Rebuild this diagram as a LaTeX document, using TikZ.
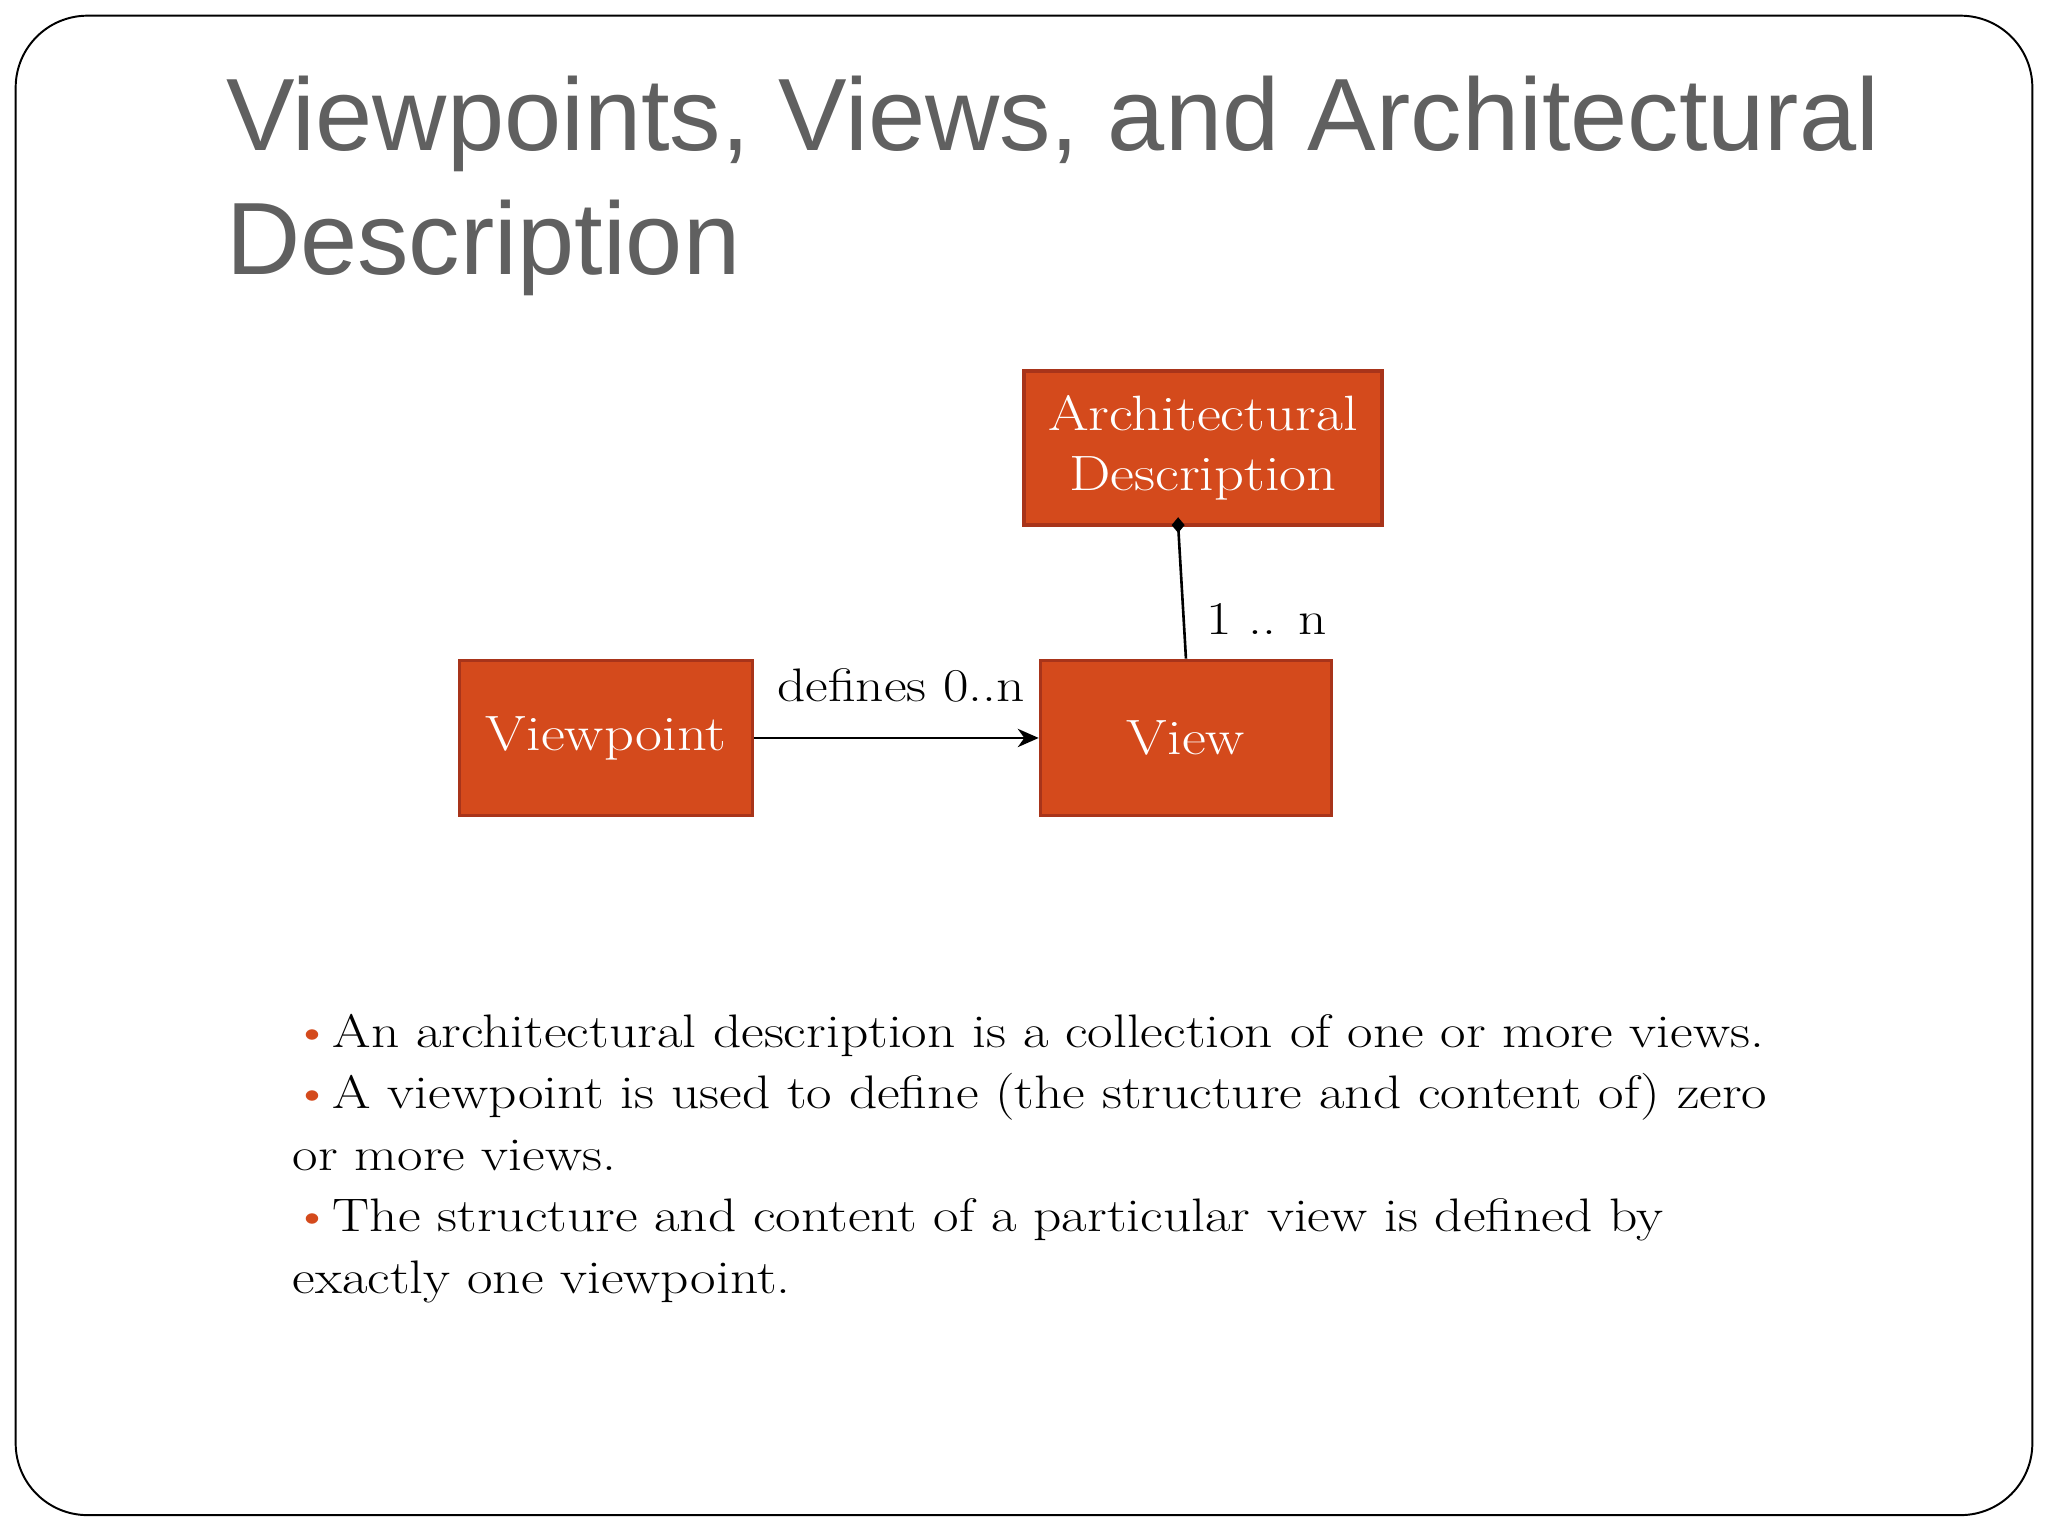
\documentclass[tikz,border=0pt]{standalone}
\usetikzlibrary{arrows.meta}
\usepackage{fontspec}
\newfontfamily\titlefont{Liberation Sans}
\newcommand{\sx}[1]{\scalebox{1.18}[1]{#1}}
\definecolor{boxor}{HTML}{D44A1C}
\definecolor{boxbd}{HTML}{A8341A}
\definecolor{titlegray}{HTML}{606060}
\begin{document}
\begin{tikzpicture}[x=1pt,y=-1pt,
  umlbox/.style={draw=boxbd,line width=2.5pt,fill=boxor,text=white,font=\fontsize{38}{46}\selectfont,align=center,inner sep=0pt},
  conn/.style={line width=2pt,black}]
\useasboundingbox (0,0) rectangle (1568,1176);
\draw[line width=1.5pt,rounded corners=55pt] (12,12) rectangle (1556,1160);
\node[anchor=base west,text=titlegray,font=\titlefont\fontsize{78.7}{96}\selectfont,inner sep=0pt] (t1) at (173,115) {Viewpoints, Views, and Architectural};
\node[anchor=base west,text=titlegray,font=\titlefont\fontsize{78.7}{96}\selectfont,inner sep=0pt] (t2) at (173,210) {Description};
\node[umlbox,minimum width=274pt,minimum height=118pt] (ad) at (921,343) {\sx{Architectural}\\\sx{Description}};
\node[umlbox,minimum width=224pt,minimum height=119pt] (vp) at (464,565) {\sx{Viewpoint}};
\node[umlbox,minimum width=223pt,minimum height=119pt] (v) at (908,565) {\sx{View}};
\draw[conn,-{Stealth[length=16pt,width=14pt,inset=5pt]}] (vp.east) -- (v.west);
\node[anchor=base,font=\fontsize{36}{44}\selectfont,inner sep=0pt] (lb1) at (690,537) {\sx{defines 0..n}};
\coordinate (dtop) at (902,402);
\draw[conn] (dtop) -- (v.north);
\fill (dtop) ++(0,-6) -- ++(5,6) -- ++(-5,6) -- ++(-5,-6) -- cycle;
\node[anchor=base,font=\fontsize{36}{44}\selectfont,inner sep=0pt] (lb2) at (970,486) {\sx{1 .. n}};
\begin{scope}[every node/.style={anchor=base west,font=\fontsize{36}{44}\selectfont,inner sep=0pt}]
\node (b1) at (224,802) {\sx{\textcolor{boxor}{\textbullet}An architectural description is a collection of one or more views.}};
\node (b2) at (224,849) {\sx{\textcolor{boxor}{\textbullet}A viewpoint is used to define (the structure and content of) zero}};
\node (b3) at (224,896) {\sx{or more views.}};
\node (b4) at (224,943) {\sx{\textcolor{boxor}{\textbullet}The structure and content of a particular view is defined by}};
\node (b5) at (224,990) {\sx{exactly one viewpoint.}};
\end{scope}
\end{tikzpicture}
\end{document}
